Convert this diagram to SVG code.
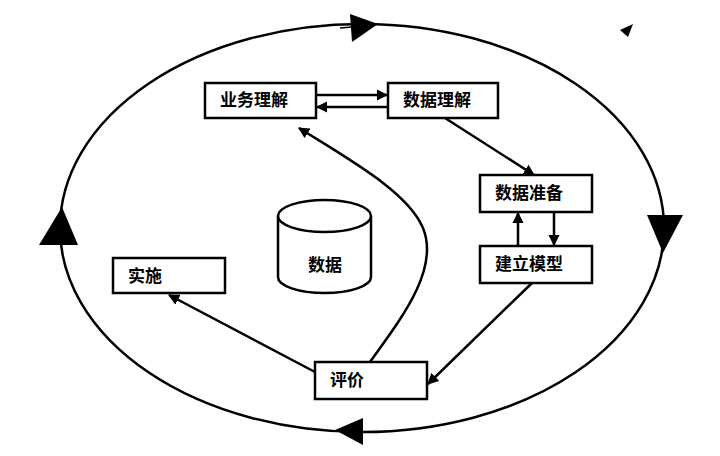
<svg xmlns="http://www.w3.org/2000/svg" width="720" height="456" viewBox="0 0 720 456">
<style>
.box{fill:#fff;stroke:#000;stroke-width:2.5}
.lbl{font-family:"Noto Sans CJK SC","Noto Sans",sans-serif;font-size:17px;font-weight:bold;fill:#000}
.ln{fill:none;stroke:#000;stroke-width:2.5}
.big{fill:#000}
</style>
<defs>
<marker id="ah" viewBox="0 0 10 10" refX="9" refY="5" markerWidth="4.5" markerHeight="4.5" orient="auto" markerUnits="strokeWidth">
<path d="M0,0 L10,5 L0,10 z" fill="#000"/>
</marker>
</defs>
<rect width="720" height="456" fill="#fff"/>
<g id="cycle">
<ellipse cx="362" cy="228" rx="302" ry="204" fill="none" stroke="#000" stroke-width="2.5"/>
<line x1="340" y1="28" x2="352" y2="27" stroke="#000" stroke-width="1.5"/>
<polygon class="big" points="350,14 378,24 352,42"/>
<polygon class="big" points="647,215 683,215 663,253"/>
<polygon class="big" points="39,245 78,245 62,207"/>
<polygon class="big" points="363,418 363,445 335,430"/>
<polygon class="big" points="620,30 633,24 628,37"/>
</g>
<g id="connectors">
<line class="ln" x1="316" y1="95" x2="387" y2="95" marker-end="url(#ah)"/>
<line class="ln" x1="388" y1="107" x2="317" y2="107" marker-end="url(#ah)"/>
<line class="ln" x1="445" y1="118" x2="534" y2="175" marker-end="url(#ah)"/>
<line class="ln" x1="518" y1="246" x2="518" y2="213" marker-end="url(#ah)"/>
<line class="ln" x1="554" y1="212" x2="554" y2="245" marker-end="url(#ah)"/>
<line class="ln" x1="532" y1="283" x2="428" y2="384" marker-end="url(#ah)"/>
<line class="ln" x1="315" y1="372" x2="169" y2="295" marker-end="url(#ah)"/>
<path class="ln" d="M370,362 C400,320 440,270 423,228 C408,192 350,160 299,128" marker-end="url(#ah)"/>
</g>
<g id="n-yewu"><rect class="box" x="205" y="83" width="111" height="35"/><text class="lbl" x="220" y="106">业务理解</text></g>
<g id="n-shujulijie"><rect class="box" x="388" y="83" width="110" height="35"/><text class="lbl" x="403" y="106">数据理解</text></g>
<g id="n-zhunbei"><rect class="box" x="480" y="175" width="112" height="37"/><text class="lbl" x="495" y="199">数据准备</text></g>
<g id="n-jianmo"><rect class="box" x="480" y="246" width="112" height="37"/><text class="lbl" x="495" y="270">建立模型</text></g>
<g id="n-pingjia"><rect class="box" x="315" y="362" width="112" height="37"/><text class="lbl" x="330" y="386">评价</text></g>
<g id="n-shishi"><rect class="box" x="113" y="258" width="112" height="35"/><text class="lbl" x="128" y="282">实施</text></g>
<g id="n-data">
<path d="M278,216 L278,277 A46.5,16 0 0 0 371,277 L371,216" fill="#fff" stroke="#000" stroke-width="2.5"/>
<ellipse cx="324.5" cy="216" rx="46.5" ry="16" fill="#fff" stroke="#000" stroke-width="2.5"/>
<text class="lbl" x="308" y="271">数据</text>
</g>
</svg>
